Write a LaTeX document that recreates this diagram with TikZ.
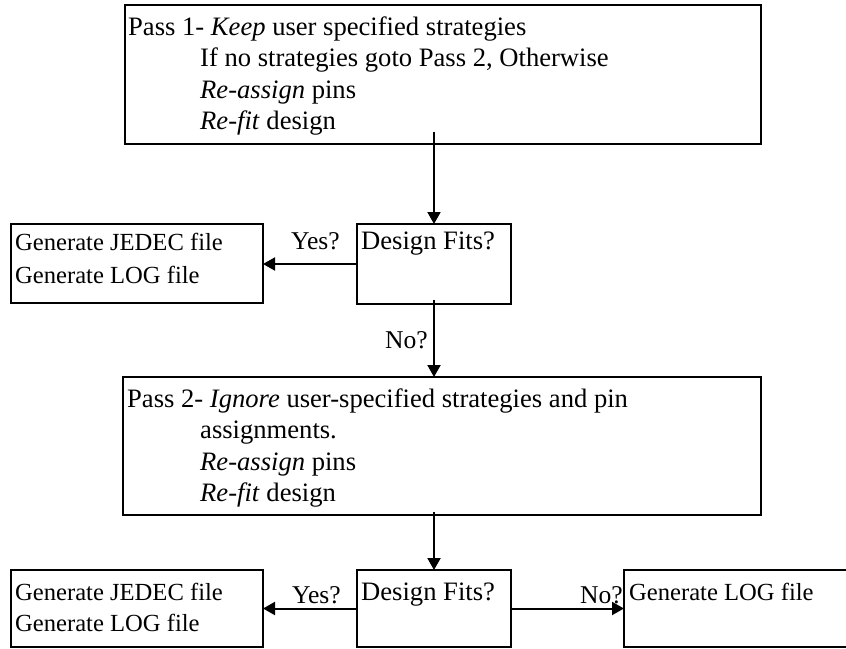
\documentclass[tikz,border=0pt]{standalone}
\usepackage{fontspec}
\setmainfont{Liberation Serif}
\usetikzlibrary{arrows.meta}
\begin{document}
\begin{tikzpicture}[x=1pt,y=-1pt,
  box/.style={draw, line width=2pt, rectangle, inner sep=0pt, outer sep=0pt, anchor=north west},
  txt/.style={anchor=base west, inner sep=0pt, font=\fontsize{26.6}{31.5}\selectfont},
  gtxt/.style={txt, font=\fontsize{24.6}{30}\selectfont},
  ltxt/.style={txt, font=\fontsize{25.6}{30}\selectfont},
  arr/.style={line width=2pt, -{Triangle[length=12pt,width=13pt]}}]
\useasboundingbox (0,0) rectangle (846,648);
\clip (0,0) rectangle (846,648);

% boxes
\node[box, minimum width=636pt, minimum height=139pt] (p1) at (125,5) {};
\node[box, minimum width=154pt, minimum height=80pt] (df1) at (357,224) {};
\node[box, minimum width=252pt, minimum height=79pt] (gen1) at (11,224) {};
\node[box, minimum width=638pt, minimum height=138pt] (p2) at (123,377) {};
\node[box, minimum width=154pt, minimum height=77pt] (df2) at (357,570) {};
\node[box, minimum width=252pt, minimum height=77pt] (gen2) at (11,570) {};
\node[box, minimum width=230pt, minimum height=77pt] (log) at (624,570) {};

% pass 1 text
\node[txt] (p1a) at (128,35) {Pass 1- \textit{Keep} user specified strategies};
\node[txt] (p1b) at (200,66.5) {If no strategies goto Pass 2, Otherwise};
\node[txt] (p1c) at (200,98) {\textit{Re-assign} pins};
\node[txt] (p1d) at (200,129.5) {\textit{Re-fit} design};

% first decision
\node[gtxt] (g1a) at (15,250) {Generate JEDEC file};
\node[gtxt] (g1b) at (15,283) {Generate LOG file};
\node[ltxt] (y1) at (291,249) {Yes?};
\node[txt] (d1) at (361,249) {Design Fits?};
\node[ltxt] (n1) at (385,348) {No?};

% pass 2 text
\node[txt] (p2a) at (127,407) {Pass 2- \textit{Ignore} user-specified strategies and pin};
\node[txt] (p2b) at (200,438.5) {assignments.};
\node[txt] (p2c) at (200,470) {\textit{Re-assign} pins};
\node[txt] (p2d) at (200,501.5) {\textit{Re-fit} design};

% second decision
\node[gtxt] (g2a) at (15,600) {Generate JEDEC file};
\node[gtxt] (g2b) at (15,631) {Generate LOG file};
\node[ltxt] (y2) at (292,603) {Yes?};
\node[txt] (d2) at (361,600) {Design Fits?};
\node[ltxt] (n2) at (580,603) {No?};
\node[gtxt] (l1) at (629,600) {Generate LOG file};

% connectors
\draw[arr] ([yshift=12pt]p1.south -| df1.north) -- (df1.north);
\draw[arr] (df1.west) -- (gen1.east |- df1.west);
\draw[arr] ([yshift=4pt]df1.south) -- (p2.north -| df1.south);
\draw[arr] ([yshift=3pt]p2.south -| df2.north) -- (df2.north);
\draw[arr] (df2.west) -- (gen2.east |- df2.west);
\draw[arr] (df2.east) -- (log.west |- df2.east);
\end{tikzpicture}
\end{document}
